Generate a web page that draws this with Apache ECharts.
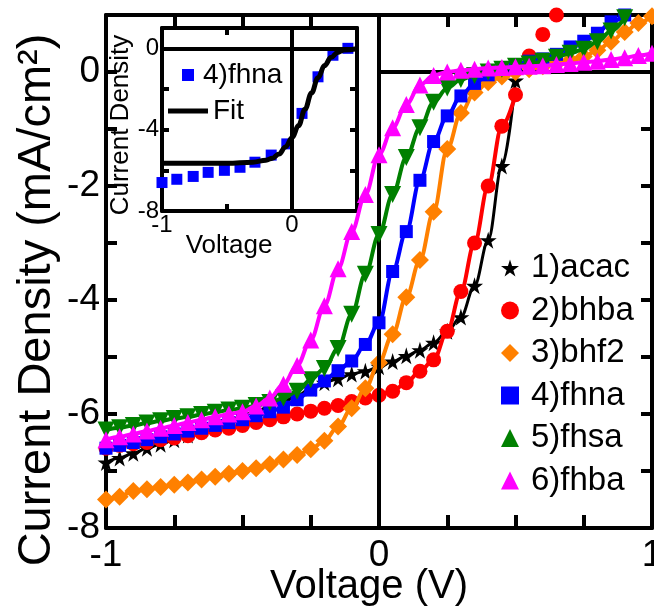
<!DOCTYPE html>
<html><head><meta charset="utf-8">
<script src="https://cdn.jsdelivr.net/npm/echarts@6/dist/echarts.min.js"></script>
<style>html,body{margin:0;padding:0;background:#fff}#c{width:654px;height:610px}</style>
</head><body><div id="c"></div>
<script>
// Voltage grid (V)
const volts = [-1,-0.95,-0.9,-0.85,-0.8,-0.75,-0.7,-0.65,-0.6,-0.55,-0.5,-0.45,-0.4,-0.35,-0.3,-0.25,-0.2,-0.15,-0.1,-0.05,0,0.05,0.1,0.15,0.2,0.25,0.3,0.35,0.4,0.45,0.5,0.55,0.6,0.65,0.7,0.75,0.8,0.85,0.9,0.95,1];
const acac = [-6.85,-6.77,-6.69,-6.6,-6.53,-6.45,-6.37,-6.28,-6.2,-6.12,-6.03,-5.95,-5.87,-5.78,-5.68,-5.55,-5.45,-5.38,-5.3,-5.25,-5.17,-5.08,-4.98,-4.88,-4.75,-4.55,-4.3,-3.75,-2.95,-1.65,-0.15];
const bhba = [-6.6,-6.55,-6.52,-6.5,-6.45,-6.42,-6.38,-6.33,-6.28,-6.25,-6.2,-6.15,-6.1,-6.05,-6.0,-5.95,-5.9,-5.85,-5.78,-5.72,-5.67,-5.6,-5.45,-5.25,-5.05,-4.55,-3.85,-3.0,-2.0,-0.95,-0.4,0.28,0.66,1.0];
const bhf2 = [-7.5,-7.45,-7.35,-7.32,-7.28,-7.24,-7.2,-7.15,-7.1,-7.05,-7.0,-6.95,-6.88,-6.8,-6.72,-6.62,-6.47,-6.22,-5.9,-5.55,-5.1,-4.6,-3.95,-3.3,-2.45,-1.35,-0.72,-0.36,-0.18,-0.08,0.0,0.05,0.1,0.15,0.2,0.27,0.38,0.53,0.7,0.86,0.98];
const fhna = [-6.6,-6.55,-6.5,-6.45,-6.4,-6.35,-6.3,-6.25,-6.2,-6.15,-6.1,-6.03,-5.96,-5.88,-5.75,-5.58,-5.42,-5.24,-5.07,-4.78,-4.4,-3.5,-2.8,-1.9,-1.22,-0.77,-0.42,-0.2,-0.05,0.06,0.13,0.19,0.23,0.31,0.44,0.54,0.68,0.88,1.0];
const fhsa = [-6.28,-6.24,-6.2,-6.16,-6.12,-6.08,-6.05,-6.01,-5.97,-5.93,-5.9,-5.85,-5.8,-5.72,-5.6,-5.4,-5.2,-4.85,-4.25,-3.55,-2.85,-2.15,-1.5,-0.98,-0.53,-0.28,-0.13,-0.06,0.0,0.05,0.1,0.14,0.19,0.26,0.33,0.4,0.53,0.72,0.95];
const fhba = [-6.45,-6.4,-6.35,-6.3,-6.25,-6.2,-6.15,-6.1,-6.05,-6.0,-5.96,-5.86,-5.72,-5.48,-5.15,-4.7,-4.1,-3.45,-2.8,-2.15,-1.45,-0.98,-0.57,-0.23,-0.06,0.0,0.03,0.05,0.07,0.08,0.09,0.1,0.11,0.13,0.15,0.17,0.19,0.22,0.25,0.29,0.33];
// Inset: fhna with fit
const insetV = [-1,-0.886,-0.76,-0.645,-0.52,-0.4,-0.285,-0.16,-0.04,0.077,0.2,0.315,0.43];
const insetJ = [-6.6,-6.44,-6.3,-6.1,-6.0,-5.85,-5.6,-5.25,-4.7,-3.2,-1.4,-0.34,0.0];
const fitV = [-1,-0.5,-0.3,-0.2,-0.15,-0.1,-0.05,0,0.05,0.1,0.15,0.2,0.25,0.3,0.35,0.4,0.5];
const fitJ = [-5.65,-5.65,-5.6,-5.5,-5.4,-5.2,-4.85,-4.4,-3.8,-3.0,-2.2,-1.45,-0.85,-0.45,-0.2,-0.08,-0.02];
// Tick labels
const mainXLabels = [-1,0,1];
const mainYLabels = [-8,-6,-4,-2,0];
const insetXLabels = [-1,0];
const insetYLabels = [-8,-4,0];
const names = ['1)acac','2)bhba','3)bhf2','4)fhna','5)fhsa','6)fhba'];

const pair = (xs, ys) => ys.map((y,i)=> y==null?null:[xs[i], y]).filter(p=>p);
const FONT = "'Liberation Sans', Arial, sans-serif";
const STAR = 'path://M50,0 L61,35 L98,35 L68,57 L79,91 L50,70 L21,91 L32,57 L2,35 L39,35 Z';

const datasets = [
  {name:names[0], ys:acac, color:'#000000', symbol:STAR, size:17, rot:0, lw:3, lineEnd:31},
  {name:names[1], ys:bhba, color:'#ff0000', symbol:'circle', size:15, rot:0, lw:4, lineEnd:31},
  {name:names[2], ys:bhf2, color:'#ff8000', symbol:'diamond', size:18, rot:0, lw:4, lineEnd:41},
  {name:names[3], ys:fhna, color:'#0000ff', symbol:'rect', size:13, rot:0, lw:4, lineEnd:41},
  {name:names[4], ys:fhsa, color:'#008000', symbol:'triangle', size:17, rot:180, lw:4, lineEnd:41},
  {name:names[5], ys:fhba, color:'#ff00ff', symbol:'triangle', size:17, rot:0, lw:4, lineEnd:41}
];

const axisLine = {show:true, onZero:false, lineStyle:{color:'#000', width:4}};
const tick = (len)=>({show:true, inside:true, length:len, lineStyle:{color:'#000', width:4}});
const inList = (list)=> (v)=> list.some(t=>Math.abs(t-v)<1e-9) ? String(v) : '';

const series = [];
series.push({
  type:'line', xAxisIndex:0, yAxisIndex:0, data:[], silent:true, z:1,
  markLine:{silent:true, symbol:'none', animation:false, label:{show:false},
    lineStyle:{color:'#000', width:4, type:'solid'},
    data:[ [{coord:[0,0]},{coord:[1,0]}], [{coord:[0,-8]},{coord:[0,1]}] ]}
});
series.push({
  type:'line', xAxisIndex:2, yAxisIndex:2, data:[], silent:true, z:1,
  markLine:{silent:true, symbol:'none', animation:false, label:{show:false},
    lineStyle:{color:'#000', width:4, type:'solid'},
    data:[ [{coord:[-1,0]},{coord:[0.5,0]}], [{coord:[0,-8]},{coord:[0,1]}] ]}
});
datasets.forEach((d,k)=>{
  const pts = pair(volts, d.ys);
  series.push({
    type:'line', name:d.name+' fit', xAxisIndex:0, yAxisIndex:0, z:2+k,
    data: pts.slice(0, d.lineEnd), symbol:'none', smooth:0.35, smoothMonotone:'x',
    lineStyle:{color:d.color, width:d.lw}, animation:false
  });
  series.push({
    type:'scatter', name:d.name, xAxisIndex:0, yAxisIndex:0, z:2+k,
    data: pts, symbol:d.symbol, symbolSize:d.size, symbolRotate:d.rot,
    itemStyle:{color:d.color, opacity:1}, animation:false
  });
});
series.push({
  type:'scatter', name:'4)fhna ', xAxisIndex:2, yAxisIndex:2, z:3,
  data: pair(insetV, insetJ), symbol:'rect', symbolSize:11,
  itemStyle:{color:'#0000ff', opacity:1}, animation:false
});
series.push({
  type:'line', name:'Fit', xAxisIndex:2, yAxisIndex:2, z:4,
  data: pair(fitV, fitJ), symbol:'none', smooth:0.4, smoothMonotone:'x',
  lineStyle:{color:'#000', width:5}, itemStyle:{color:'#000'}, animation:false
});

const labelStyle = (size, margin)=>({show:true, color:'#000', fontFamily:FONT, fontSize:size, margin:margin});
const option = {
  animation:false,
  backgroundColor:'#fff',
  grid:[
    {left:106, top:15, width:546, height:513, outerBoundsMode:'none', containLabel:false},
    {left:162, top:28, width:195, height:183, outerBoundsMode:'none', containLabel:false}
  ],
  xAxis:[
    {type:'value', gridIndex:0, min:-1, max:1, interval:0.25, position:'bottom',
      axisLine, axisTick:tick(13), splitLine:{show:false},
      axisLabel:{...labelStyle(37,9), formatter:inList(mainXLabels), showMinLabel:true, showMaxLabel:true, hideOverlap:false}},
    {type:'value', gridIndex:0, min:-1, max:1, interval:0.25, position:'top',
      axisLine, axisTick:tick(12), splitLine:{show:false}, axisLabel:{show:false}},
    {type:'value', gridIndex:1, min:-1, max:0.5, interval:0.5, position:'bottom',
      axisLine, axisTick:tick(7), splitLine:{show:false},
      axisLabel:{...labelStyle(24,2), formatter:inList(insetXLabels)}},
    {type:'value', gridIndex:1, min:-1, max:0.5, interval:0.5, position:'top',
      axisLine, axisTick:tick(7), splitLine:{show:false}, axisLabel:{show:false}}
  ],
  yAxis:[
    {type:'value', gridIndex:0, min:-8, max:1, interval:1, position:'left',
      axisLine, axisTick:tick(11), splitLine:{show:false},
      axisLabel:{...labelStyle(37,6), formatter:inList(mainYLabels)}},
    {type:'value', gridIndex:0, min:-8, max:1, interval:1, position:'right',
      axisLine, axisTick:tick(11), splitLine:{show:false}, axisLabel:{show:false}},
    {type:'value', gridIndex:1, min:-8, max:1, interval:2, position:'left',
      axisLine, axisTick:tick(7), splitLine:{show:false},
      axisLabel:{...labelStyle(24,3), formatter:inList(insetYLabels)}},
    {type:'value', gridIndex:1, min:-8, max:1, interval:2, position:'right',
      axisLine, axisTick:tick(7), splitLine:{show:false}, axisLabel:{show:false}}
  ],
  legend:[
    {orient:'vertical', left:496, top:246, itemWidth:18, itemHeight:18, itemGap:8.5,
      data:names, selectedMode:false,
      textStyle:{fontFamily:FONT, fontSize:33, lineHeight:34, color:'#000', padding:[0,0,0,7]}},
    {orient:'vertical', left:177, top:56, itemWidth:12, itemHeight:12,
      data:['4)fhna '], selectedMode:false,
      textStyle:{fontFamily:FONT, fontSize:28, lineHeight:28, color:'#000', padding:[0,0,0,4]}},
    {orient:'vertical', left:163, top:92, itemWidth:40, itemHeight:5,
      data:[{name:'Fit', icon:'rect'}], selectedMode:false,
      textStyle:{fontFamily:FONT, fontSize:28, lineHeight:28, color:'#000', padding:[0,0,0,0]}}
  ],
  graphic:[
    {type:'text', x:37, y:300, rotation:Math.PI/2, silent:true,
      style:{text:'Current Density (mA/cm²)', font:'47px '+FONT, fill:'#000', align:'center', verticalAlign:'middle'}},
    {type:'text', x:369, y:587, silent:true,
      style:{text:'Voltage (V)', font:'40px '+FONT, fill:'#000', align:'center', verticalAlign:'middle'}},
    {type:'text', x:121, y:125, rotation:Math.PI/2, silent:true,
      style:{text:'Current Density', font:'26px '+FONT, fill:'#000', align:'center', verticalAlign:'middle'}},
    {type:'text', x:229, y:246, silent:true,
      style:{text:'Voltage', font:'26px '+FONT, fill:'#000', align:'center', verticalAlign:'middle'}}
  ],
  series
};
const chart = echarts.init(document.getElementById('c'), null, {renderer:'canvas'});
chart.setOption(option);
</script></body></html>
